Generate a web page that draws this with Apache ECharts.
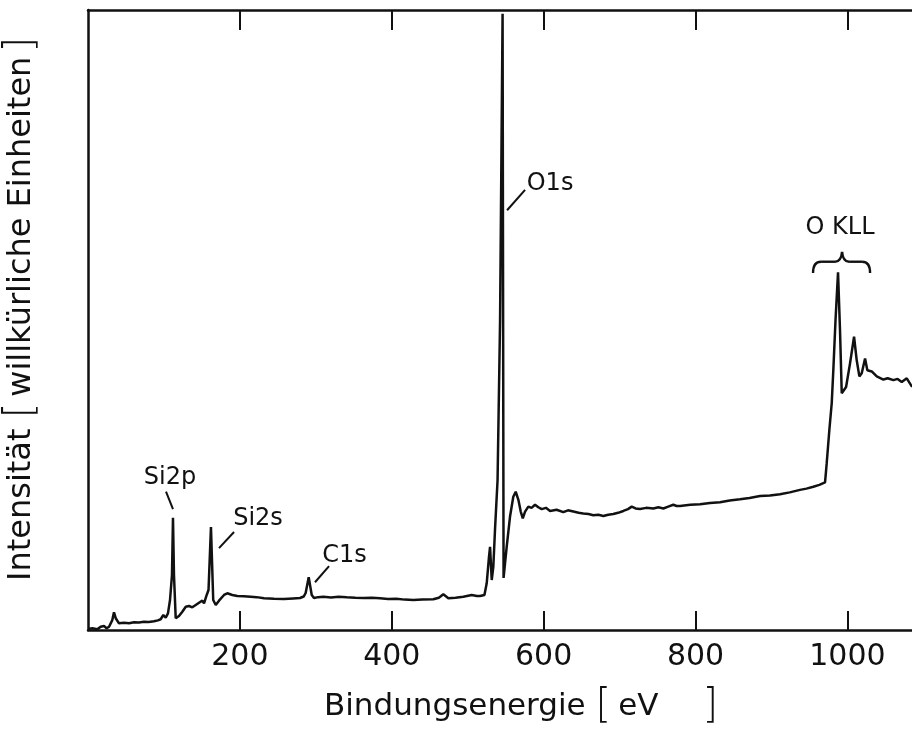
<!DOCTYPE html>
<html>
<head>
<meta charset="utf-8">
<script src="https://cdn.jsdelivr.net/npm/echarts@6/dist/echarts.min.js"></script>
<style>
  html, body { margin: 0; padding: 0; background: #ffffff; }
  #chart { width: 912px; height: 730px; }
</style>
</head>
<body>
<div id="chart"></div>
<script>
// XPS survey spectrum: binding energy (eV) and intensity (arbitrary units, 0..100)
const energy = [
  0, 5.7, 12.2, 16.7, 21.1, 24.6, 27.7, 32.0, 34.2, 36.5, 40.8, 47.4, 54, 60.6, 67, 73.7, 80, 86.9, 92, 95.7,
  99.2, 102.3, 105.3, 108.0, 110.6, 111.9, 113.2, 115.5, 119.8, 124.2, 128.7, 133.0, 137.3, 141.8, 146.2, 150.5,
  152.8, 156.3, 158.7, 161.9, 164.9, 168.2, 172.5, 179.1, 183.4, 190.0, 196.6, 205, 214.2, 222, 231.8, 245,
  258.1, 270, 279.2, 284, 286.6, 290.6, 294.6, 297.6, 303, 309.9, 320, 330, 340.6, 352, 363, 374, 384.5, 395,
  406, 417, 428.4, 440, 454.7, 462, 467.9, 474.5, 484, 494.2, 505.2, 512, 516.2, 522, 525.0, 528.0, 529.4,
  531.6, 533.7, 535.9, 539.3, 542.6, 545.9, 547.2, 551.3, 555.7, 560.0, 563.2, 566.7, 569.8, 572.5, 575.5,
  579.8, 584, 588.6, 593, 597.4, 603, 608.4, 617, 625.9, 632, 639.1, 646, 652.2, 659, 665.4, 672, 678.6, 685,
  691.7, 698, 704.9, 711, 716.0, 721, 726.9, 735, 744.4, 751, 757.6, 764, 770.7, 775, 779.6, 793, 805.9, 819,
  832.2, 845, 858.5, 871, 884.9, 898, 911.2, 924, 937.5, 946, 955.1, 963, 970.5, 972.7, 976.2, 979.3, 981.4,
  984.3, 987.6, 990.2, 992.5, 994.6, 998.2, 1003.4, 1008.7, 1012.2, 1015.7, 1018.8, 1023.2, 1026.2, 1032,
  1038.6, 1047.3, 1053, 1060.5, 1066, 1071.5, 1078.1, 1085.1
];
const intensity = [
  0.16, 0.27, 0.11, 0.53, 0.65, 0.27, 0.53, 1.6, 2.85, 1.9, 1.08, 1.18, 1.1, 1.24, 1.2, 1.34, 1.3, 1.4, 1.55, 1.73,
  2.42, 1.98, 2.69, 4.84, 8.9, 18.1, 8.9, 1.89, 2.26, 2.95, 3.76, 3.87, 3.66, 4.03, 4.4, 4.73,
  4.31, 5.65, 6.45, 16.6, 4.84, 4.03, 4.73, 5.65, 5.92, 5.65, 5.48, 5.45, 5.37, 5.3, 5.11, 5.05,
  5.0, 5.1, 5.16, 5.4, 5.97, 8.5, 5.65, 5.16, 5.3, 5.37, 5.25, 5.35, 5.27, 5.2, 5.15, 5.2, 5.11, 5.0,
  5.05, 4.9, 4.84, 4.9, 4.95, 5.2, 5.75, 5.11, 5.2, 5.37, 5.65, 5.5, 5.48, 5.65, 7.53, 11.8, 13.4,
  8.06, 10.2, 16.1, 24.2, 50, 99.4, 8.4, 13.4, 18.3, 21.5, 22.3, 21.0, 19.1, 18.0, 19.1,
  19.9, 19.7, 20.2, 19.8, 19.5, 19.7, 19.2, 19.4, 19.0, 19.3, 19.1, 18.9, 18.8, 18.7, 18.5, 18.6, 18.4, 18.6,
  18.7, 18.9, 19.2, 19.5, 19.9, 19.6, 19.5, 19.7, 19.6, 19.8, 19.6, 19.9, 20.2, 20.0, 20.0, 20.2, 20.3, 20.5,
  20.6, 20.9, 21.1, 21.3, 21.6, 21.7, 21.9, 22.2, 22.6, 22.8, 23.1, 23.4, 23.8, 26.9, 32.3, 36.6, 41.9,
  50.0, 57.7, 48.4, 38.2, 37.9, 39.2, 43.0, 47.3, 43.5, 40.9, 41.4, 43.8, 41.9, 41.7,
  40.9, 40.4, 40.6, 40.3, 40.5, 40.0, 40.6, 39.2
];

// Axis ticks (eV)
const tickValues = [200, 400, 600, 800, 1000];

// Peak annotations: label text, label centre, leader line ends (all in eV / intensity)
const peakLabels = ['Si2p', 'Si2s', 'C1s', 'O1s'];
const labelAt = [[108.0, 24.5], [223.9, 18.0], [337.8, 12.0], [608.4, 71.9]];
const leaderFrom = [[102.7, 22.3], [192.3, 15.8], [317.4, 10.3], [575.5, 71.0]];
const leaderTo = [[111.9, 19.5], [172.5, 13.2], [298.9, 7.7], [551.8, 67.7]];

// Auger group: label and brace (left end, tip, right end in eV; end / bar / tip heights)
const augerLabel = 'O KLL';
const augerLabelAt = [990.3, 64.8];
const braceX = [954.7, 992.9, 1029.8];
const braceY = [57.6, 59.4, 61.0];

const INK = '#111111';
const FONT = 'DejaVu Sans';

const spectrum = energy.map((e, i) => [e, intensity[i]]);
const annotations = peakLabels.map((t, i) => [
  labelAt[i][0], labelAt[i][1], leaderFrom[i][0], leaderFrom[i][1], leaderTo[i][0], leaderTo[i][1]
]);

const chart = echarts.init(document.getElementById('chart'), null, { renderer: 'canvas' });

const axisLineStyle = { color: INK, width: 2.5 };

chart.setOption({
  animation: false,
  backgroundColor: '#ffffff',
  grid: { left: 88, right: 0, top: 10, bottom: 100, containLabel: false, outerBoundsMode: 'none' },
  xAxis: [
    {
      type: 'value', position: 'bottom', min: 0, max: 1085,
      axisLine: { show: true, onZero: false, lineStyle: axisLineStyle },
      axisTick: { show: true, inside: true, length: 19, customValues: tickValues, lineStyle: { color: INK, width: 2 } },
      axisLabel: {
        show: true, customValues: tickValues, margin: 12, fontSize: 30, fontFamily: FONT, color: INK,
        formatter: function (v) { return String(v); }
      },
      splitLine: { show: false }
    },
    {
      type: 'value', position: 'top', min: 0, max: 1085,
      axisLine: { show: true, onZero: false, lineStyle: axisLineStyle },
      axisTick: { show: true, inside: true, length: 20, customValues: tickValues, lineStyle: { color: INK, width: 2 } },
      axisLabel: { show: false },
      splitLine: { show: false }
    }
  ],
  yAxis: {
    type: 'value', min: 0, max: 100,
    axisLine: { show: true, onZero: false, lineStyle: axisLineStyle },
    axisTick: { show: false },
    axisLabel: { show: false },
    splitLine: { show: false }
  },
  graphic: [
    {
      type: 'text', x: 521, y: 707,
      style: {
        text: '{t|Bindungsenergie }{b|[}{u|eV}{b|]}',
        align: 'center', verticalAlign: 'middle', fill: INK,
        rich: {
          t: { fontSize: 31, fontFamily: FONT, fill: INK },
          u: { fontSize: 31, fontFamily: FONT, fill: INK, padding: [0, 44, 0, 7] },
          b: { fontSize: 40, fontFamily: FONT, fill: INK, fontWeight: 'lighter' }
        }
      }
    },
    {
      type: 'text', x: 22, y: 309, rotation: Math.PI / 2,
      style: {
        text: '{t|Intensität }{b|[}{u|willkürliche Einheiten}{b|]}',
        align: 'center', verticalAlign: 'middle', fill: INK,
        rich: {
          t: { fontSize: 32, fontFamily: FONT, fill: INK },
          u: { fontSize: 32, fontFamily: FONT, fill: INK, padding: [0, 4, 0, 6] },
          b: { fontSize: 40, fontFamily: FONT, fill: INK, fontWeight: 'lighter' }
        }
      }
    }
  ],
  series: [
    {
      type: 'line',
      data: spectrum,
      showSymbol: false,
      symbol: 'none',
      clip: true,
      lineStyle: { color: INK, width: 2.5 },
      z: 3
    },
    {
      type: 'custom',
      data: annotations,
      z: 4,
      renderItem: function (params, api) {
        const i = params.dataIndex;
        const p = api.coord([api.value(0), api.value(1)]);
        const a = api.coord([api.value(2), api.value(3)]);
        const b = api.coord([api.value(4), api.value(5)]);
        return {
          type: 'group',
          children: [
            { type: 'line', shape: { x1: a[0], y1: a[1], x2: b[0], y2: b[1] }, style: { stroke: INK, lineWidth: 2 } },
            {
              type: 'text', x: p[0], y: p[1],
              style: { text: peakLabels[i], fill: INK, font: '24px "' + FONT + '"', align: 'center', verticalAlign: 'middle' }
            }
          ]
        };
      }
    },
    {
      type: 'custom',
      data: [[augerLabelAt[0], augerLabelAt[1]]],
      z: 4,
      renderItem: function (params, api) {
        const p = api.coord([api.value(0), api.value(1)]);
        const l = api.coord([braceX[0], braceY[0]]);
        const m = api.coord([braceX[1], braceY[1]]);
        const t = api.coord([braceX[1], braceY[2]]);
        const r = api.coord([braceX[2], braceY[0]]);
        const yb = l[1], ym = m[1], yt = t[1];
        const xl = l[0], xt = m[0], xr = r[0];
        const st = { stroke: INK, lineWidth: 2.4, fill: null };
        return {
          type: 'group',
          children: [
            { type: 'bezierCurve', shape: { x1: xl, y1: yb, x2: xl + 8, y2: ym, cpx1: xl, cpy1: ym }, style: st },
            { type: 'line', shape: { x1: xl + 8, y1: ym, x2: xt - 7, y2: ym }, style: st },
            { type: 'bezierCurve', shape: { x1: xt - 7, y1: ym, x2: xt, y2: yt, cpx1: xt - 1, cpy1: ym }, style: st },
            { type: 'bezierCurve', shape: { x1: xt, y1: yt, x2: xt + 7, y2: ym, cpx1: xt + 1, cpy1: ym }, style: st },
            { type: 'line', shape: { x1: xt + 7, y1: ym, x2: xr - 8, y2: ym }, style: st },
            { type: 'bezierCurve', shape: { x1: xr - 8, y1: ym, x2: xr, y2: yb, cpx1: xr, cpy1: ym }, style: st },
            {
              type: 'text', x: p[0], y: p[1],
              style: { text: augerLabel, fill: INK, font: '24px "' + FONT + '"', align: 'center', verticalAlign: 'middle' }
            }
          ]
        };
      }
    }
  ]
});
</script>
</body>
</html>
